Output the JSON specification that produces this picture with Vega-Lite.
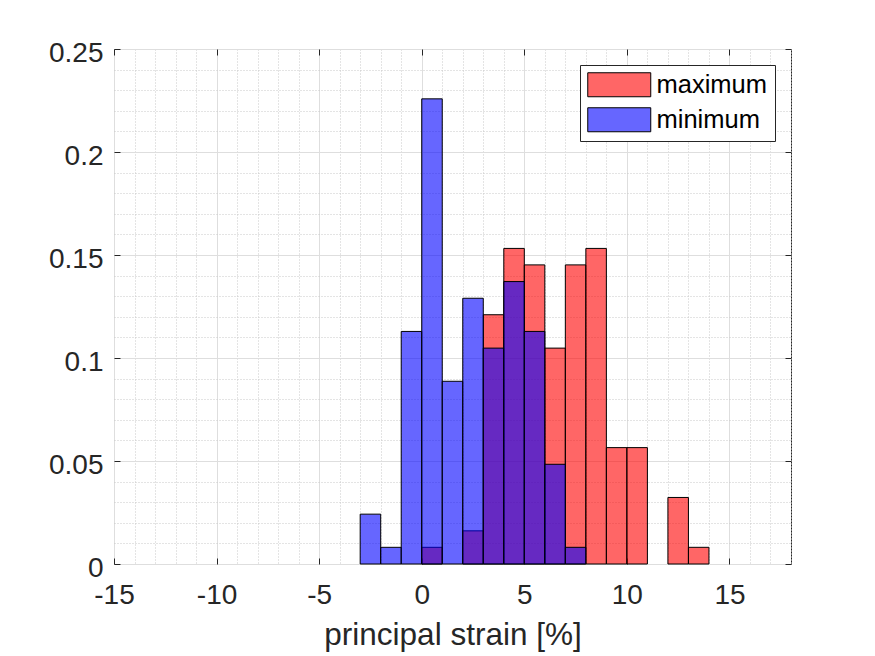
{
  "$schema": "https://vega.github.io/schema/vega-lite/v6.json",
  "width": 677,
  "height": 515,
  "autosize": {"type": "none"},
  "padding": {"left": 114, "top": 49, "right": 84, "bottom": 92},
  "background": "white",
  "data": {
    "values": [
      {"series": "maximum", "bin_start": 0, "bin_end": 1, "fraction": 0.0081},
      {"series": "maximum", "bin_start": 2, "bin_end": 3, "fraction": 0.0161},
      {"series": "maximum", "bin_start": 3, "bin_end": 4, "fraction": 0.1210},
      {"series": "maximum", "bin_start": 4, "bin_end": 5, "fraction": 0.1532},
      {"series": "maximum", "bin_start": 5, "bin_end": 6, "fraction": 0.1452},
      {"series": "maximum", "bin_start": 6, "bin_end": 7, "fraction": 0.1048},
      {"series": "maximum", "bin_start": 7, "bin_end": 8, "fraction": 0.1452},
      {"series": "maximum", "bin_start": 8, "bin_end": 9, "fraction": 0.1532},
      {"series": "maximum", "bin_start": 9, "bin_end": 10, "fraction": 0.0565},
      {"series": "maximum", "bin_start": 10, "bin_end": 11, "fraction": 0.0565},
      {"series": "maximum", "bin_start": 12, "bin_end": 13, "fraction": 0.0323},
      {"series": "maximum", "bin_start": 13, "bin_end": 14, "fraction": 0.0081},
      {"series": "minimum", "bin_start": -3, "bin_end": -2, "fraction": 0.0242},
      {"series": "minimum", "bin_start": -2, "bin_end": -1, "fraction": 0.0081},
      {"series": "minimum", "bin_start": -1, "bin_end": 0, "fraction": 0.1129},
      {"series": "minimum", "bin_start": 0, "bin_end": 1, "fraction": 0.2258},
      {"series": "minimum", "bin_start": 1, "bin_end": 2, "fraction": 0.0887},
      {"series": "minimum", "bin_start": 2, "bin_end": 3, "fraction": 0.1290},
      {"series": "minimum", "bin_start": 3, "bin_end": 4, "fraction": 0.1048},
      {"series": "minimum", "bin_start": 4, "bin_end": 5, "fraction": 0.1371},
      {"series": "minimum", "bin_start": 5, "bin_end": 6, "fraction": 0.1129},
      {"series": "minimum", "bin_start": 6, "bin_end": 7, "fraction": 0.0484},
      {"series": "minimum", "bin_start": 7, "bin_end": 8, "fraction": 0.0081}
    ]
  },
  "layer": [
    {
      "mark": {"type": "bar", "fillOpacity": 0.6, "stroke": "black", "strokeWidth": 1, "strokeOpacity": 1},
      "encoding": {
        "x": {
          "field": "bin_start", "type": "quantitative",
          "scale": {"domain": [-15, 18], "nice": false, "zero": false},
          "axis": {
            "orient": "bottom",
            "values": [-15,-14,-13,-12,-11,-10,-9,-8,-7,-6,-5,-4,-3,-2,-1,0,1,2,3,4,5,6,7,8,9,10,11,12,13,14,15,16,17,18],
            "labelExpr": "datum.value % 5 === 0 ? toString(datum.value) : ''",
            "tickOpacity": {"condition": {"test": "datum.value % 5 === 0", "value": 1}, "value": 0},
            "gridDash": {"condition": {"test": "datum.value % 5 === 0", "value": []}, "value": [1, 2]},
            "gridColor": {"condition": {"test": "datum.value % 5 === 0", "value": "#dedede"}, "value": "#c8c8c8"},
            "grid": true,
            "domain": false,
            "tickSize": -6,
            "labelPadding": 23,
            "labelFlush": false,
            "title": "principal strain [%]",
            "titleY": 80,
            "titleBaseline": "alphabetic",
            "titleFontSize": 31.5
          }
        },
        "x2": {"field": "bin_end"},
        "y": {
          "field": "fraction", "type": "quantitative", "stack": null,
          "scale": {"domain": [0, 0.25], "nice": false},
          "axis": {
            "orient": "left",
            "values": [0,0.01,0.02,0.03,0.04,0.05,0.06,0.07,0.08,0.09,0.1,0.11,0.12,0.13,0.14,0.15,0.16,0.17,0.18,0.19,0.2,0.21,0.22,0.23,0.24,0.25],
            "labelExpr": "abs(round(datum.value * 100)) % 5 === 0 ? toString(datum.value) : ''",
            "tickOpacity": {"condition": {"test": "abs(round(datum.value * 100)) % 5 === 0", "value": 1}, "value": 0},
            "gridDash": {"condition": {"test": "abs(round(datum.value * 100)) % 5 === 0", "value": []}, "value": [1, 2]},
            "gridColor": {"condition": {"test": "abs(round(datum.value * 100)) % 5 === 0", "value": "#dedede"}, "value": "#c8c8c8"},
            "grid": true,
            "domain": false,
            "tickSize": -6,
            "labelPadding": 17,
            "labelOffset": 4,
            "labelFlush": false,
            "title": null
          }
        },
        "y2": {"datum": 0},
        "color": {
          "field": "series", "type": "nominal",
          "scale": {"domain": ["maximum", "minimum"], "range": ["#ff0000", "#0000ff"]},
          "legend": {
            "orient": "top-right",
            "offset": 16,
            "title": null,
            "symbolType": "M-1,-1H4.25V1H-1Z",
            "symbolSize": 576,
            "symbolStrokeColor": "black",
            "symbolStrokeWidth": 1,
            "labelFont": "Liberation Sans",
            "labelFontSize": 25.5,
            "labelColor": "black",
            "labelOffset": 44,
            "padding": 7,
            "rowPadding": 6,
            "strokeColor": "#262626",
            "fillColor": "white",
            "encode": {
              "symbols": {
                "update": {
                  "fillOpacity": {"value": 0.6},
                  "strokeOpacity": {"value": 1},
                  "opacity": {"value": 1}
                }
              }
            }
          }
        }
      }
    },
    {
      "mark": {"type": "point", "opacity": 0},
      "encoding": {
        "x": {
          "field": "bin_start", "type": "quantitative",
          "axis": {"orient": "top", "values": [-15,-10,-5,0,5,10,15], "labels": false, "domain": false, "grid": false, "tickSize": -6, "title": null}
        },
        "y": {
          "field": "fraction", "type": "quantitative",
          "axis": {"orient": "right", "values": [0,0.05,0.1,0.15,0.2,0.25], "labels": false, "domain": false, "grid": false, "tickSize": -6, "title": null}
        }
      }
    }
  ],
  "resolve": {"axis": {"x": "independent", "y": "independent"}},
  "config": {
    "view": {"stroke": "#262626", "strokeWidth": 1},
    "font": "Liberation Sans",
    "axis": {
      "labelFont": "Liberation Sans",
      "labelFontSize": 28,
      "labelColor": "#262626",
      "tickColor": "#262626",
      "tickWidth": 1,
      "gridWidth": 1,
      "titleFont": "Liberation Sans",
      "titleFontWeight": "normal",
      "titleColor": "#262626"
    }
  }
}
